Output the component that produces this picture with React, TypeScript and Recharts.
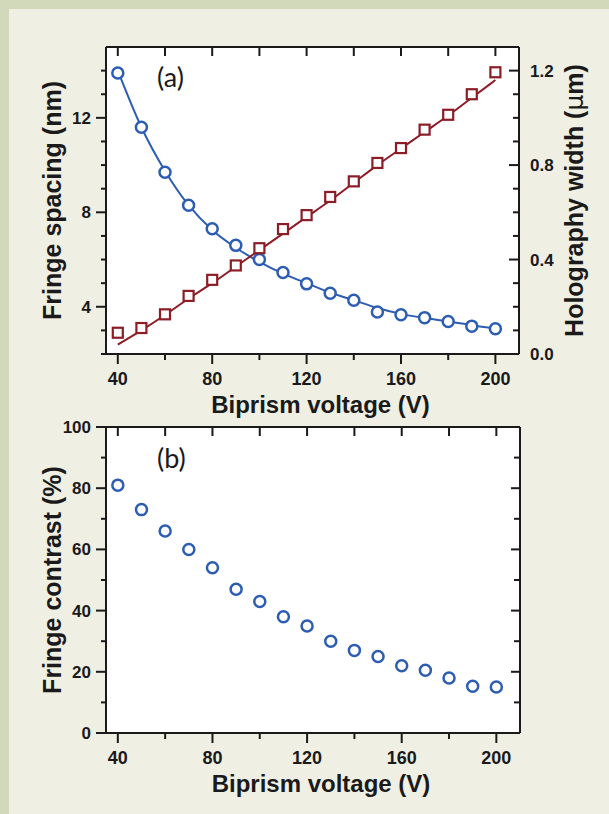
import { ComposedChart, Line, Scatter, XAxis, YAxis, CartesianGrid } from "recharts";

// biprism voltage (V), sampled every 10 V
const VOLTAGE = [40, 50, 60, 70, 80, 90, 100, 110, 120, 130, 140, 150, 160, 170, 180, 190, 200];

// (a) fringe spacing (nm), left axis
const FRINGE_SPACING = [13.9, 11.6, 9.7, 8.3, 7.3, 6.6, 6.0, 5.45, 4.97, 4.57, 4.28, 3.78, 3.66, 3.54, 3.38, 3.18, 3.07];
const FRINGE_SPACING_FIT = [14.0, 11.6, 9.75, 8.3, 7.25, 6.5, 5.9, 5.4, 5.0, 4.6, 4.28, 3.95, 3.7, 3.52, 3.38, 3.22, 3.08];

// (a) holography width (um), right axis
const HOLOGRAPHY_WIDTH = [0.09, 0.11, 0.168, 0.246, 0.314, 0.375, 0.448, 0.529, 0.588, 0.665, 0.731, 0.809, 0.872, 0.95, 1.013, 1.1, 1.193];
const HOLOGRAPHY_WIDTH_FIT = [0.04, 0.1, 0.165, 0.235, 0.3, 0.37, 0.44, 0.51, 0.58, 0.65, 0.725, 0.8, 0.87, 0.94, 1.01, 1.085, 1.16];

// (b) fringe contrast (%)
const FRINGE_CONTRAST = [81, 73, 66, 60, 54, 47, 43, 38, 35, 30, 27, 25, 22, 20.5, 18, 15.3, 15];

const X_TICKS = [40, 60, 80, 100, 120, 140, 160, 180, 200];
const X_LABELED = [40, 80, 120, 160, 200];
const SPACING_TICKS = [2, 3, 4, 5, 6, 7, 8, 9, 10, 11, 12, 13, 14];
const SPACING_LABELED = [4, 8, 12];
const WIDTH_TICKS = [0, 0.1, 0.2, 0.3, 0.4, 0.5, 0.6, 0.7, 0.8, 0.9, 1, 1.1, 1.2];
const WIDTH_LABELED = [0, 0.4, 0.8, 1.2];
const CONTRAST_TICKS = [0, 10, 20, 30, 40, 50, 60, 70, 80, 90, 100];
const CONTRAST_LABELED = [0, 20, 40, 60, 80, 100];

const topData = VOLTAGE.map((v, i) => ({
  v,
  fs: FRINGE_SPACING[i],
  fsFit: FRINGE_SPACING_FIT[i],
  hw: HOLOGRAPHY_WIDTH[i],
  hwFit: HOLOGRAPHY_WIDTH_FIT[i],
}));
const bottomData = VOLTAGE.map((v, i) => ({ v, fc: FRINGE_CONTRAST[i] }));

const BLUE = "#2d5db3";
const RED = "#8c1d27";
const INK = "#1a1a1a";
const SANS = "'Liberation Sans', Arial, sans-serif";
const AXIS = { stroke: INK, strokeWidth: 2 };
const X_DOMAIN: [number, number] = [35, 210];

type Side = "bottom" | "top" | "left" | "right";

// tick marks drawn by hand so major and minor ones can differ in length
function axisTick(
  side: Side,
  labeled: number[],
  major: number,
  minor: number,
  outward: boolean,
  fmt?: (v: number) => string,
  fontSize = 18
) {
  return (props: any) => {
    const { x, y, payload } = props;
    const v = payload.value as number;
    const isMajor = labeled.includes(v);
    const len = isMajor ? major : minor;
    let dx = 0;
    let dy = 0;
    if (side === "bottom") dy = outward ? 1 : -1;
    if (side === "top") dy = outward ? -1 : 1;
    if (side === "left") dx = outward ? -1 : 1;
    if (side === "right") dx = outward ? 1 : -1;
    let label = null;
    if (fmt && isMajor) {
      if (side === "bottom") {
        label = (
          <text x={x} y={y + 31} textAnchor="middle" fontSize={fontSize}>
            {fmt(v)}
          </text>
        );
      } else if (side === "left") {
        label = (
          <text x={x - 15} y={y + 6} textAnchor="end" fontSize={fontSize}>
            {fmt(v)}
          </text>
        );
      } else if (side === "right") {
        label = (
          <text x={x + 11} y={y + 6} textAnchor="start" fontSize={fontSize}>
            {fmt(v)}
          </text>
        );
      }
    }
    return (
      <g>
        <line x1={x} y1={y} x2={x + dx * len} y2={y + dy * len} stroke={INK} strokeWidth={2} />
        {label && (
          <g fill={INK} fontFamily={SANS} fontWeight={700}>
            {label}
          </g>
        )}
      </g>
    );
  };
}

const xTitle = (props: any) => {
  const { x, y, width } = props.viewBox;
  return (
    <text x={x + width / 2 + 8} y={y + 59} textAnchor="middle" fontFamily={SANS} fontWeight={700} fontSize={24} fill={INK}>
      Biprism voltage (V)
    </text>
  );
};

const yTitle = (text: React.ReactNode, fromLeft: number) => (props: any) => {
  const { x, y, height } = props.viewBox;
  const cx = x + fromLeft;
  const cy = y + height / 2;
  return (
    <text
      x={cx}
      y={cy}
      transform={`rotate(-90 ${cx} ${cy})`}
      textAnchor="middle"
      fontFamily={SANS}
      fontWeight={700}
      fontSize={25}
      fill={INK}
    >
      {text}
    </text>
  );
};

const circleShape = (props: any) => (
  <circle cx={props.cx} cy={props.cy} r={5.5} fill="#fff" stroke={BLUE} strokeWidth={2.5} />
);
const squareShape = (props: any) => (
  <rect x={props.cx - 5} y={props.cy - 5} width={10} height={10} fill="#fff" stroke={RED} strokeWidth={2.2} />
);

const fmtInt = (v: number) => String(v);
const fmtOne = (v: number) => v.toFixed(1);

function PanelLabel({ text, top }: { text: string; top: number }) {
  return (
    <div
      style={{
        position: "absolute",
        left: 157,
        top,
        fontFamily: "Lato, 'Open Sans', sans-serif",
        fontSize: 27,
        color: INK,
        lineHeight: "30px",
      }}
    >
      {text}
    </div>
  );
}

// top frame edge: a 1px-high axis whose line lands on the plot's upper border
function TopFrame() {
  return (
    <XAxis
      xAxisId="t"
      dataKey="v"
      orientation="top"
      type="number"
      domain={X_DOMAIN}
      ticks={X_TICKS}
      interval={0}
      tickSize={0}
      tickMargin={0}
      tickLine={false}
      axisLine={AXIS}
      tick={axisTick("top", X_TICKS, 9, 9, false)}
      height={1}
    />
  );
}

function SpacingChart() {
  return (
    <ComposedChart width={609} height={420} data={topData} margin={{ top: 46, right: 0, bottom: 0, left: 0 }}>
      <CartesianGrid xAxisId="b" yAxisId="l" horizontal={false} vertical={false} fill="#fff" />
      <XAxis
        xAxisId="b"
        dataKey="v"
        type="number"
        domain={X_DOMAIN}
        ticks={X_TICKS}
        interval={0}
        tickSize={0}
        tickMargin={0}
        tickLine={false}
        axisLine={AXIS}
        tick={axisTick("bottom", X_LABELED, 10, 6, true, fmtInt)}
        height={66}
        label={{ content: xTitle }}
      />
      {TopFrame()}
      <YAxis
        yAxisId="l"
        type="number"
        domain={[2, 15]}
        ticks={SPACING_TICKS}
        interval={0}
        tickSize={0}
        tickMargin={0}
        tickLine={false}
        axisLine={AXIS}
        tick={axisTick("left", SPACING_LABELED, 10, 5, true, fmtInt, 17)}
        width={106}
        label={{ content: yTitle("Fringe spacing (nm)", 61) }}
      />
      <YAxis
        yAxisId="r"
        orientation="right"
        type="number"
        domain={[0, 1.3]}
        ticks={WIDTH_TICKS}
        interval={0}
        tickSize={0}
        tickMargin={0}
        tickLine={false}
        axisLine={AXIS}
        tick={axisTick("right", WIDTH_LABELED, 10, 6, false, fmtOne, 17)}
        width={90}
        label={{
          content: yTitle(
            <>
              Holography width (<tspan fontFamily="'DejaVu Sans', sans-serif" fontWeight={400}>μ</tspan>m)
            </>,
            64
          ),
        }}
      />
      <Line xAxisId="b" yAxisId="l" dataKey="fsFit" type="monotone" stroke={BLUE} strokeWidth={2} dot={false} isAnimationActive={false} />
      <Line xAxisId="b" yAxisId="r" dataKey="hwFit" type="monotone" stroke={RED} strokeWidth={2} dot={false} isAnimationActive={false} />
      {/* blue markers sit on the top axis (same domain) so that frame edge gets drawn */}
      <Scatter xAxisId="t" yAxisId="l" dataKey="fs" shape={circleShape} isAnimationActive={false} />
      <Scatter xAxisId="b" yAxisId="r" dataKey="hw" shape={squareShape} isAnimationActive={false} />
    </ComposedChart>
  );
}

function ContrastChart() {
  return (
    <ComposedChart width={609} height={404} data={bottomData} margin={{ top: 16, right: 0, bottom: 0, left: 0 }}>
      <CartesianGrid xAxisId="b" yAxisId="l" horizontal={false} vertical={false} fill="#fff" />
      <XAxis
        xAxisId="b"
        dataKey="v"
        type="number"
        domain={X_DOMAIN}
        ticks={X_TICKS}
        interval={0}
        tickSize={0}
        tickMargin={0}
        tickLine={false}
        axisLine={AXIS}
        tick={axisTick("bottom", X_LABELED, 10, 6, true, fmtInt)}
        height={81}
        label={{ content: xTitle }}
      />
      {TopFrame()}
      <YAxis
        yAxisId="l"
        type="number"
        domain={[0, 100]}
        ticks={CONTRAST_TICKS}
        interval={0}
        tickSize={0}
        tickMargin={0}
        tickLine={false}
        axisLine={AXIS}
        tick={axisTick("left", CONTRAST_LABELED, 10, 5, true, fmtInt, 17)}
        width={106}
        label={{ content: yTitle("Fringe contrast (%)", 61) }}
      />
      <YAxis
        yAxisId="r"
        orientation="right"
        type="number"
        domain={[0, 100]}
        ticks={CONTRAST_TICKS.slice(1, -1)}
        interval={0}
        tickSize={0}
        tickMargin={0}
        tickLine={false}
        axisLine={AXIS}
        tick={axisTick("right", CONTRAST_LABELED, 9, 6, false)}
        width={89}
      />
      {/* invisible twin so the bottom/left frame axes have a series */}
      <Line xAxisId="b" yAxisId="l" dataKey="fc" stroke="none" dot={false} legendType="none" isAnimationActive={false} />
      <Scatter xAxisId="t" yAxisId="r" dataKey="fc" shape={circleShape} isAnimationActive={false} />
    </ComposedChart>
  );
}

export default function App() {
  return (
    <div style={{ position: "absolute", left: 0, top: 0, width: 609, height: 814, background: "#d2d8ba", overflow: "hidden" }}>
      <div style={{ position: "absolute", left: 9, top: 9, right: 0, bottom: 0, background: "#f0efe4" }} />
      <div style={{ position: "absolute", left: 0, top: 0 }}>
        <SpacingChart />
      </div>
      <div style={{ position: "absolute", left: 0, top: 410 }}>
        <ContrastChart />
      </div>
      <PanelLabel text="(a)" top={62} />
      <PanelLabel text="(b)" top={443} />
    </div>
  );
}
